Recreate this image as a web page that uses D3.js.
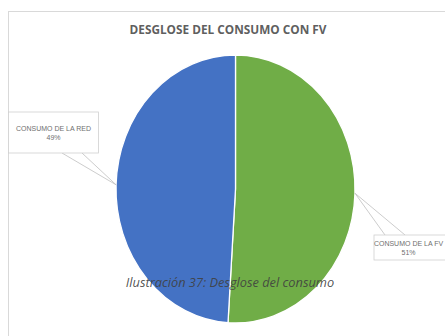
<!DOCTYPE html>
<html><head><meta charset="utf-8">
<script src="https://cdn.jsdelivr.net/npm/d3@7"></script>
<style>html,body{margin:0;padding:0;background:#fff;overflow:hidden}</style>
</head><body>
<script>
const title = "DESGLOSE DEL CONSUMO CON FV";
const caption = "Ilustración 37: Desglose del consumo";
const categories = ["CONSUMO DE LA FV", "CONSUMO DE LA RED"];
const values = [51, 49];
const colors = ["#70AD47", "#4472C4"];

const W = 445, H = 336;
const svg = d3.select("body").append("svg").attr("width", W).attr("height", H);

// chart frame
svg.append("rect").attr("x", 8.5).attr("y", 11.5).attr("width", 460).attr("height", 340)
  .attr("fill", "#fff").attr("stroke", "#d9d9d9").attr("stroke-width", 1);

svg.append("text").attr("x", 228).attr("y", 34).attr("text-anchor", "middle")
  .attr("font-family", "Open Sans, sans-serif").attr("font-weight", "bold")
  .attr("font-size", 11.8).attr("fill", "#5f5f5f").text(title);

const cx = 235.5, cy = 189, rx = 119.5, ry = 134;
const pie = d3.pie().sort(null).value(d => d)(values);
const arc = d3.arc().innerRadius(0).outerRadius(rx);

const g = svg.append("g").attr("transform", `translate(${cx},${cy}) scale(1,${ry/rx})`);
g.selectAll("path").data(pie).join("path")
  .attr("d", arc).attr("fill", (d, i) => colors[i])
  .attr("stroke", "#fff").attr("stroke-width", 1.3);

// callouts
const boxes = [
  {x: 374, y: 235, w: 80, h: 25, tx1: 385, tx2: 405, top: true, tcx: 408.5},
  {x: 8.5, y: 112, w: 90, h: 41, tx1: 62, tx2: 82, top: false, tcx: 53.5}
];
pie.forEach((d, i) => {
  const b = boxes[i];
  const a = (d.startAngle + d.endAngle) / 2;
  const px = cx + rx * Math.sin(a), py = cy - ry * Math.cos(a);
  const by = b.top ? b.y : b.y + b.h;
  svg.append("path")
    .attr("d", `M${b.tx1},${by} L${px},${py} L${b.tx2},${by}`)
    .attr("fill", "none").attr("stroke", "#bfbfbf").attr("stroke-width", 0.8);
  svg.append("rect").attr("x", b.x).attr("y", b.y).attr("width", b.w).attr("height", b.h)
    .attr("fill", "#fff").attr("stroke", "#d0d0d0").attr("stroke-width", 0.8);
  const t = svg.append("text").attr("text-anchor", "middle")
    .attr("font-family", "Liberation Sans Narrow, Liberation Sans, sans-serif")
    .attr("font-size", 7).attr("fill", "#6f6f6f");
  const mx = b.tcx, my = b.y + b.h / 2;
  t.append("tspan").attr("x", mx).attr("y", my - 1.5).text(categories[i]);
  t.append("tspan").attr("x", mx).attr("y", my + 7).text(Math.round(d.value) + "%");
});

svg.append("text").attr("x", 230).attr("y", 287).attr("text-anchor", "middle")
  .attr("font-family", "Open Sans, sans-serif").attr("font-style", "italic")
  .attr("font-size", 12.8).attr("fill", "#404040").attr("fill-opacity", 0.9).text(caption);
</script>
</body></html>
